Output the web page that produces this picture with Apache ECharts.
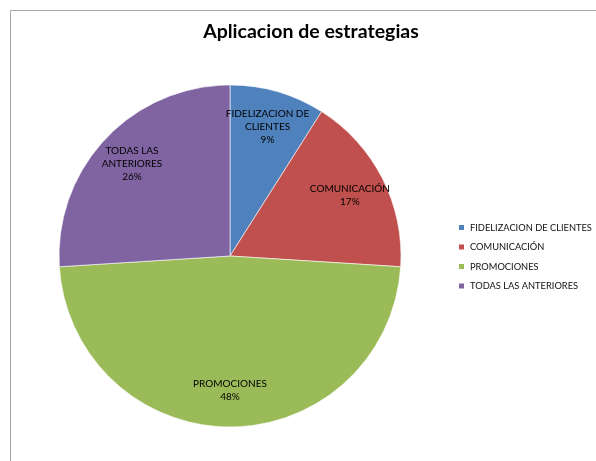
<!DOCTYPE html>
<html>
<head>
<meta charset="utf-8">
<script src="https://cdn.jsdelivr.net/npm/echarts@6/dist/echarts.min.js"></script>
<style>
  html, body { margin: 0; padding: 0; background: #fff; }
  #pie { width: 596px; height: 461px; }
</style>
</head>
<body>
<div id="pie"></div>
<script>
// categorias y valores (porcentajes)
var categorias = ['FIDELIZACION DE CLIENTES', 'COMUNICACIÓN', 'PROMOCIONES', 'TODAS LAS ANTERIORES'];
var etiquetas = ['FIDELIZACION DE\nCLIENTES', 'COMUNICACIÓN', 'PROMOCIONES', 'TODAS LAS\nANTERIORES'];
var valores = [9, 17, 48, 26];
var colores = ['#4F81BD', '#C0504D', '#9BBB59', '#8064A2'];

(function () {

    var chart = echarts.init(document.getElementById('pie'));

    var datos = categorias.map(function (c, i) {
        return { name: c, value: valores[i] };
    });

    var option = {
        color: colores,
        textStyle: { fontFamily: 'Lato, "Open Sans", sans-serif' },
        title: {
            text: 'Aplicacion de estrategias',
            left: 306,
            top: 17,
            textAlign: 'center',
            textStyle: { fontSize: 19.5, fontWeight: 'bold', color: '#000' }
        },
        legend: {
            orient: 'vertical',
            left: 452,
            top: 218,
            icon: 'rect',
            itemWidth: 7,
            itemHeight: 7,
            itemGap: 10.5,
            textStyle: { fontSize: 9.3, color: '#111' },
            data: categorias
        },
        graphic: [{
            type: 'rect',
            shape: { x: 10.5, y: 10.5, width: 700, height: 600 },
            style: { fill: 'none', stroke: '#a6a6a6', lineWidth: 1 },
            silent: true
        }],
        series: [
            {
                name: 'estrategias',
                type: 'pie',
                center: [230, 256],
                radius: 171,
                startAngle: 90,
                clockwise: true,
                animation: false,
                label: { show: false },
                labelLine: { show: false },
                itemStyle: { borderColor: '#fff', borderWidth: 0.6 },
                data: datos
            },
            {
                // solo etiquetas, hacia el borde exterior como en Excel
                name: 'etiquetas',
                type: 'pie',
                center: [230, 256],
                radius: [92, 171],
                startAngle: 90,
                clockwise: true,
                animation: false,
                silent: true,
                legendHoverLink: false,
                itemStyle: { color: 'rgba(0,0,0,0)' },
                label: {
                    show: true,
                    position: 'inside',
                    fontSize: 10,
                    lineHeight: 13,
                    color: '#000',
                    formatter: function (p) {
                        return etiquetas[p.dataIndex] + '\n' + Math.round(p.percent) + '%';
                    }
                },
                labelLine: { show: false },
                data: datos
            }
        ]
    };

    chart.setOption(option);
})();
</script>
</body>
</html>
